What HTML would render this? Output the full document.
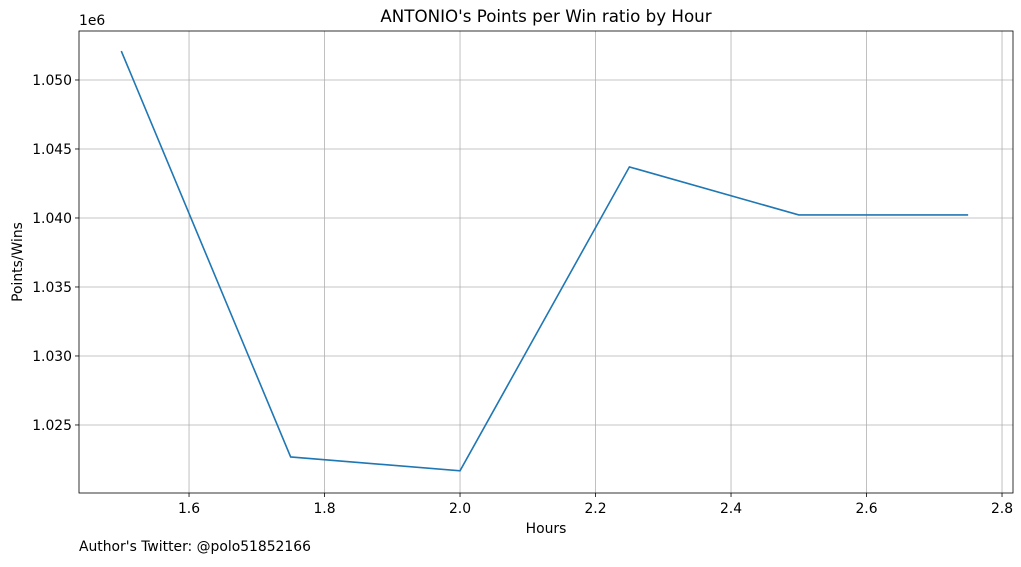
<!DOCTYPE html>
<html><head><meta charset="utf-8"><style>
body{margin:0;background:#fff;font-family:"Liberation Sans","DejaVu Sans",sans-serif}
svg text{font-family:"DejaVu Sans","Liberation Sans",sans-serif;fill:#000}
</style></head><body>
<svg id="c" width="1021" height="562" xmlns="http://www.w3.org/2000/svg"></svg>
<script>
const hours=[1.5,1.75,2.0,2.25,2.5,2.75];
const ratios=[1052100,1022680,1021680,1043700,1040220,1040220];
const xTicks=[1.6,1.8,2.0,2.2,2.4,2.6,2.8];
const xTickLabels=["1.6","1.8","2.0","2.2","2.4","2.6","2.8"];
const yTicks=[1025000,1030000,1035000,1040000,1045000,1050000];
const yTickLabels=["1.025","1.030","1.035","1.040","1.045","1.050"];
const L=79,R=1013,T=31,B=493,xMin=1.4376,xMax=2.8162,yMin=1020070,yMax=1053550;
const sx=v=>L+(v-xMin)/(xMax-xMin)*(R-L);
const sy=v=>B-(v-yMin)/(yMax-yMin)*(B-T);
const svg=document.getElementById('c');const NS='http://www.w3.org/2000/svg';
function mk(t,a,p){const e=document.createElementNS(NS,t);for(const k in a)e.setAttribute(k,a[k]);(p||svg).appendChild(e);return e;}
xTicks.forEach((v,i)=>{const x=sx(v);
const g=mk('line',{x1:x,x2:x,y1:T,y2:B,stroke:'#b0b0b0','stroke-width':0.8});


mk('line',{x1:x,x2:x,y1:B,y2:B+4,stroke:'#000','stroke-width':0.8});
const t=mk('text',{x:x,y:B+20,'text-anchor':'middle','font-size':13.9});t.textContent=xTickLabels[i];

});
yTicks.forEach((v,i)=>{const y=sy(v);
const g=mk('line',{x1:L,x2:R,y1:y,y2:y,stroke:'#b0b0b0','stroke-width':0.8});


mk('line',{x1:L-4,x2:L,y1:y,y2:y,stroke:'#000','stroke-width':0.8});
const t=mk('text',{x:L-7,y:y+5,'text-anchor':'end','font-size':13.9});t.textContent=yTickLabels[i];

});
const pts=hours.map((h,i)=>sx(h)+','+sy(ratios[i])).join(' ');
const pl=mk('polyline',{points:pts,fill:'none',stroke:'#1f77b4','stroke-width':1.6});


const fr=mk('rect',{x:L,y:T,width:R-L,height:B-T,fill:'none',stroke:'#000','stroke-width':0.8});


function txt(s,a,n){const t=mk('text',a);t.textContent=s;}
txt('ANTONIO\'s Points per Win ratio by Hour',{x:(L+R)/2,y:22,'text-anchor':'middle','font-size':16.7},'chart-title');
txt('1e6',{x:L,y:25,'font-size':13.9},'y-offset-label');
txt('Hours',{x:(L+R)/2,y:533,'text-anchor':'middle','font-size':13.9},'x-axis-title');
txt('Points/Wins',{x:22,y:(T+B)/2,'text-anchor':'middle','font-size':13.9,transform:'rotate(-90 22 '+((T+B)/2)+')'},'y-axis-title');
txt("Author's Twitter: @polo51852166",{x:79,y:551,'font-size':13.9},'author-credit');
</script>
</body></html>
